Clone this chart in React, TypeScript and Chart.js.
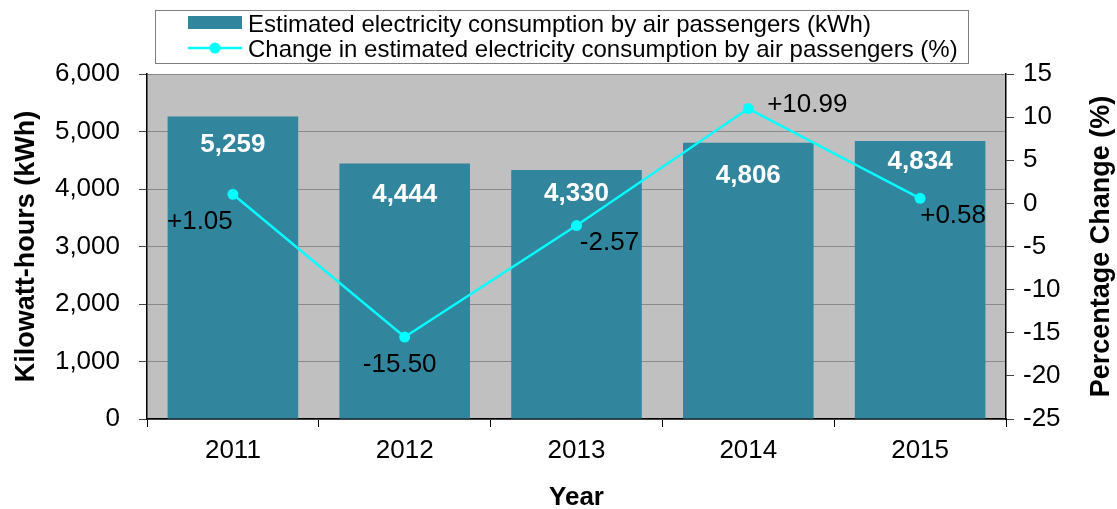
import React, { useEffect, useRef } from "react";
import { Chart, registerables } from "chart.js";

Chart.register(...registerables);

const years = ["2011", "2012", "2013", "2014", "2015"];
const consumptionKWh = [5259, 4444, 4330, 4806, 4834];
const changePct = [1.05, -15.5, -2.57, 10.99, 0.58];
const leftTicks = [0, 1000, 2000, 3000, 4000, 5000, 6000];
const rightTicks = [-25, -20, -15, -10, -5, 0, 5, 10, 15];

const barLabel = "Estimated electricity consumption by air passengers (kWh)";
const lineLabel = "Change in estimated electricity consumption by air passengers (%)";

// label placement offsets (styling)
const barLabelDy = [28, 31, 24, 33, 21];
const lineLabelDx = [-33, -5, 33, 59, 33];
const lineLabelDy = [28, 28, 17, -4, 17];

const FONT = "'Liberation Sans', Arial, sans-serif";
const BAR_COLOR = "#31859c";
const LINE_COLOR = "#00ffff";

export default function App() {
  const ref = useRef<HTMLCanvasElement | null>(null);
  useEffect(() => {
    document.body.style.margin = "0";
    const canvas = ref.current!;
    const bgPlugin = {
      id: "plotBg",
      beforeDraw(chart: any) {
        const { ctx, chartArea: a } = chart;
        ctx.save();
        ctx.fillStyle = "#c0c0c0";
        ctx.fillRect(a.left, a.top, a.right - a.left, a.bottom - a.top);
        ctx.restore();
      },
    };
    const labelsPlugin = {
      id: "valueLabels",
      afterDatasetsDraw(chart: any) {
        const ctx = chart.ctx;
        ctx.save();
        ctx.textAlign = "center";
        ctx.textBaseline = "middle";
        const bm = chart.getDatasetMeta(0);
        ctx.font = `bold 26px ${FONT}`;
        ctx.fillStyle = "#ffffff";
        bm.data.forEach((el: any, i: number) => {
          ctx.fillText(consumptionKWh[i].toLocaleString("en-US"), el.x, el.y + barLabelDy[i]);
        });
        const lm = chart.getDatasetMeta(1);
        ctx.font = `26px ${FONT}`;
        ctx.fillStyle = "#000000";
        lm.data.forEach((el: any, i: number) => {
          const v = changePct[i];
          const t = (v > 0 ? "+" : "") + v.toFixed(2);
          ctx.fillText(t, el.x + lineLabelDx[i], el.y + lineLabelDy[i]);
        });
        ctx.restore();
      },
      afterDraw(chart: any) {
        const ctx = chart.ctx;
        const a = chart.chartArea;
        ctx.save();
        // axis titles
        ctx.fillStyle = "#000";
        ctx.font = `bold 27px ${FONT}`;
        ctx.textAlign = "center";
        ctx.textBaseline = "middle";
        const midY = (a.top + a.bottom) / 2;
        ctx.save();
        ctx.translate(27, midY);
        ctx.rotate(-Math.PI / 2);
        ctx.fillText("Kilowatt-hours (kWh)", 0, 0);
        ctx.restore();
        ctx.save();
        ctx.translate(1102, midY);
        ctx.rotate(-Math.PI / 2);
        ctx.fillText("Percentage Change (%)", 0, 0);
        ctx.restore();
        ctx.font = `bold 26px ${FONT}`;
        ctx.fillText("Year", (a.left + a.right) / 2, 498);
        // legend
        ctx.fillStyle = "#ffffff";
        ctx.fillRect(155, 10, 813, 53);
        ctx.strokeStyle = "#7f7f7f";
        ctx.lineWidth = 1;
        ctx.strokeRect(155.5, 10.5, 813, 53);
        ctx.fillStyle = BAR_COLOR;
        ctx.fillRect(188, 16, 54, 13);
        ctx.strokeStyle = LINE_COLOR;
        ctx.lineWidth = 2.5;
        ctx.beginPath();
        ctx.moveTo(188, 48);
        ctx.lineTo(242, 48);
        ctx.stroke();
        ctx.fillStyle = LINE_COLOR;
        ctx.beginPath();
        ctx.arc(215, 48, 5.5, 0, Math.PI * 2);
        ctx.fill();
        ctx.fillStyle = "#000";
        ctx.font = `24px ${FONT}`;
        ctx.textAlign = "left";
        ctx.textBaseline = "alphabetic";
        ctx.fillText(barLabel, 248, 32);
        ctx.fillText(lineLabel, 248, 57);
        ctx.restore();
      },
    };
    const chart = new Chart(canvas, {
      type: "bar",
      data: {
        labels: years,
        datasets: [
          {
            type: "bar",
            label: barLabel,
            data: consumptionKWh,
            backgroundColor: BAR_COLOR,
            borderWidth: 0,
            barPercentage: 0.76,
            categoryPercentage: 1,
            yAxisID: "y",
            order: 2,
          },
          {
            type: "line",
            label: lineLabel,
            data: changePct,
            borderColor: LINE_COLOR,
            backgroundColor: LINE_COLOR,
            borderWidth: 2.5,
            pointRadius: 5.5,
            pointBorderWidth: 0,
            pointBackgroundColor: LINE_COLOR,
            tension: 0,
            yAxisID: "y1",
            order: 1,
          },
        ],
      },
      options: {
        responsive: false,
        animation: false,
        layout: { padding: { top: 74, left: 0, right: 0, bottom: 0 } },
        plugins: {
          legend: { display: false },
          tooltip: { enabled: false },
        },
        scales: {
          x: {
            offset: true,
            grid: {
              offset: true,
              drawOnChartArea: false,
              tickLength: 8,
              color: "#000",
            },
            border: { color: "#000", width: 1.5 },
            ticks: { color: "#000", font: { family: FONT, size: 26 }, padding: 8 },
            afterFit(s: any) {
              s.height = 90;
            },
          },
          y: {
            position: "left",
            min: 0,
            max: 6000,
            afterBuildTicks(s: any) {
              s.ticks = leftTicks.map((v) => ({ value: v }));
            },
            grid: { color: "#8a8a8a", tickLength: 8, tickColor: "#444" },
            border: { color: "#000", width: 1.5 },
            ticks: {
              color: "#000",
              font: { family: FONT, size: 26 },
              padding: 19,
              callback: (v: any) => Number(v).toLocaleString("en-US"),
            },
            afterFit(s: any) {
              s.width = 147;
            },
          },
          y1: {
            position: "right",
            min: -25,
            max: 15,
            afterBuildTicks(s: any) {
              s.ticks = rightTicks.map((v) => ({ value: v }));
            },
            grid: { drawOnChartArea: false, tickLength: 8, color: "#444" },
            border: { color: "#000", width: 1.5 },
            ticks: { color: "#000", font: { family: FONT, size: 26 }, padding: 9 },
            afterFit(s: any) {
              s.width = 111;
            },
          },
        },
      },
      plugins: [bgPlugin, labelsPlugin],
    } as any);
    return () => chart.destroy();
  }, []);
  return <canvas ref={ref} width={1117} height={509} />;
}
